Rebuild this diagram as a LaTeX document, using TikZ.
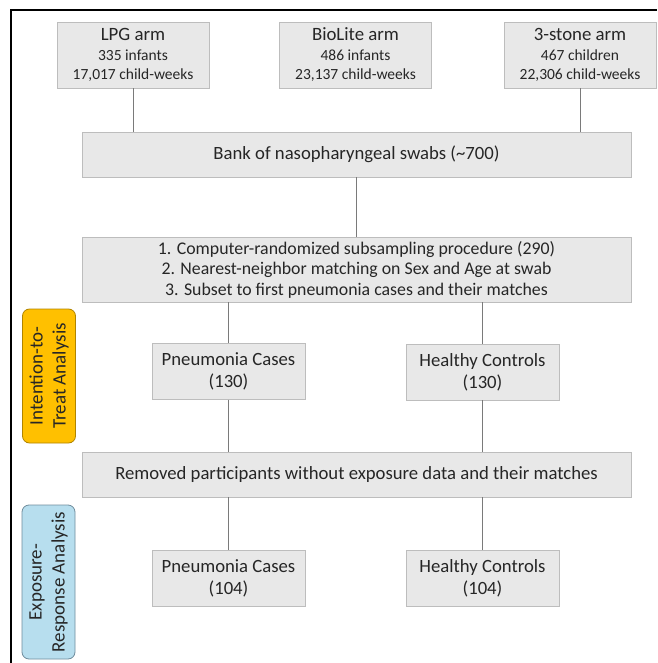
\documentclass[tikz,border=0pt]{standalone}
\usepackage{fontspec}
\setmainfont{Carlito}
\usepackage{tikz}
\usetikzlibrary{positioning}

\definecolor{boxfill}{HTML}{E8E8E8}
\definecolor{boxline}{HTML}{BDBDBD}
\definecolor{linkgray}{HTML}{7A7A7A}
\definecolor{ittorange}{HTML}{FFC000}
\definecolor{ittedge}{HTML}{B08400}
\definecolor{erblue}{HTML}{B7DEEE}
\definecolor{eredge}{HTML}{6F8C9C}

\begin{document}
\begin{tikzpicture}[x=1pt,y=-1pt,
    box/.style={draw=boxline,fill=boxfill,line width=0.8pt,align=center,inner sep=2pt,
      text=black!85,font=\fontsize{18.7}{22}\selectfont},
    armbox/.style={box,minimum width=152pt,minimum height=66pt,font=\fontsize{15.5}{19.5}\selectfont},
    widebox/.style={box,minimum width=549pt,minimum height=45pt},
    groupbox/.style={box,minimum width=153pt,minimum height=56pt},
    sidebox/.style={draw,rounded corners=7pt,line width=0.8pt,rotate=90,align=center,
      inner sep=1pt,text=black!85,font=\fontsize{19}{23}\selectfont},
    link/.style={draw=linkgray,line width=0.9pt}]
    \useasboundingbox (0,0) rectangle (657,663);
    \draw[line width=1.6pt] (11,663) -- (11,10) -- (657,10);

    \node[armbox] (lpg) at (133,55) {{\fontsize{18.8}{20}\selectfont LPG arm}\\335 infants\\17,017 child-weeks};
    \node[armbox] (bio) at (355.5,55) {{\fontsize{18.8}{20}\selectfont BioLite arm}\\486 infants\\23,137 child-weeks};
    \node[armbox] (stone) at (580,55) {{\fontsize{18.8}{20}\selectfont 3-stone arm}\\467 children\\22,306 child-weeks};

    \node[widebox] (bank) at (356.5,154.5) {Bank of nasopharyngeal swabs (\textasciitilde 700)};
    \node[widebox,minimum height=65pt,font=\fontsize{17.8}{20.5}\selectfont] (sub) at (356.5,269.5) {1. Computer-randomized subsampling procedure (290)\\
      2. Nearest-neighbor matching on Sex and Age at swab\\
      3. Subset to first pneumonia cases and their matches};

    \node[groupbox] (pcitt) at (228.5,371.5) {Pneumonia Cases\\(130)};
    \node[groupbox] (hcitt) at (482.5,372) {Healthy Controls\\(130)};

    \node[widebox] (removed) at (356.5,474.5) {Removed participants without exposure data and their matches};

    \node[groupbox] (pcer) at (228.5,578) {Pneumonia Cases\\(104)};
    \node[groupbox] (hcer) at (482.5,578.5) {Healthy Controls\\(104)};

    \node[sidebox,draw=ittedge,fill=ittorange,minimum width=134pt,minimum height=53pt] (itt) at (49,376) {Intention-to-\\Treat Analysis};
    \node[sidebox,draw=eredge,fill=erblue,minimum width=154pt,minimum height=53pt] (er) at (48.5,582) {Exposure-\\Response Analysis};

    \path[link] (lpg.south) -- (lpg.south |- bank.north);
    \path[link] (stone.south) -- (stone.south |- bank.north);
    \path[link] (bank.south) -- (sub.north);
    \path[link] (pcitt.north |- sub.south) -- (pcitt.north);
    \path[link] (hcitt.north |- sub.south) -- (hcitt.north);
    \path[link] (pcitt.south) -- (pcitt.south |- removed.north);
    \path[link] (hcitt.south) -- (hcitt.south |- removed.north);
    \path[link] (pcer.north |- removed.south) -- (pcer.north);
    \path[link] (hcer.north |- removed.south) -- (hcer.north);
\end{tikzpicture}
\end{document}
